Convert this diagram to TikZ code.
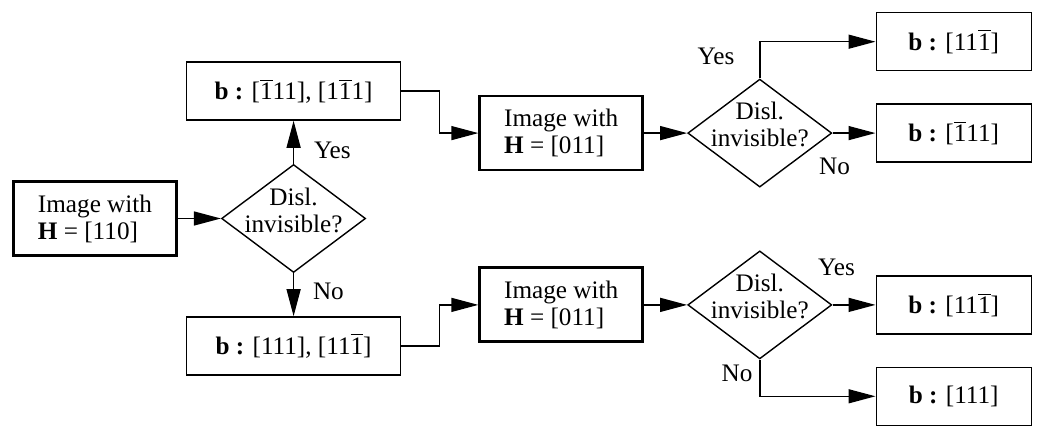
\documentclass[tikz,border=0pt]{standalone}
\usepackage{fontspec}
\setmainfont{Liberation Serif}
\usetikzlibrary{positioning,shapes.geometric,arrows.meta}
\newcommand{\barone}{$\overline{\mbox{1}}$}

\begin{document}
\begin{tikzpicture}[
    node distance=21.5pt,
    font=\fontsize{12.6}{13.5}\selectfont,
 imgnode/.style = {
        draw, rectangle, align=left, line width=1.4pt,
        minimum width=81.5pt, minimum height=37pt, inner sep=2pt},
 bnode/.style = {
        draw, rectangle, line width=0.7pt,
        minimum height=29pt, inner sep=2pt},
 decision/.style = {
        draw, diamond, align=center, line width=0.7pt, aspect=1.33,
        minimum width=72pt, minimum height=54pt, inner sep=0pt,
        text height=13.9pt, text depth=0pt},
 answer/.style = {inner sep=1pt},
     arrow/.style = {line width=0.7pt,-{Triangle[length=13.5pt,width=7pt]}}
                    ]
\useasboundingbox (-47.5pt,-109.75pt) rectangle (473pt,109.25pt);
% the first image and its test
\node (n1)  [imgnode]   {Image with\\ \textbf{H} = [110]};
\node (d1)  [decision, right=of n1]   {Disl.\\invisible?};
\node (n1u) [bnode, minimum width=107pt, above=of d1]
                {\textbf{b :} [\barone 11], [1\barone 1]};
\node (n1d) [bnode, minimum width=107pt, below=of d1]
                {\textbf{b :} [111], [11\barone]};
% the upper branch
\node (n2)  [imgnode, right=38.5pt of n1u, yshift=-21pt]
                {Image with\\ \textbf{H} = [011]};
\node (d2)  [decision, right=of n2]   {Disl.\\invisible?};
\node (n2b) [bnode, minimum width=77.5pt, right=of d2]
                {\textbf{b :} [\barone 11]};
\node (n2a) [bnode, minimum width=77.5pt, above=16pt of n2b]
                {\textbf{b :} [11\barone]};
% the lower branch
\node (n3)  [imgnode, right=38.5pt of n1d, yshift=20.5pt]
                {Image with\\ \textbf{H} = [011]};
\node (d3)  [decision, right=of n3]   {Disl.\\invisible?};
\node (n3a) [bnode, minimum width=77.5pt, right=of d3]
                {\textbf{b :} [11\barone]};
\node (n3b) [bnode, minimum width=77.5pt, below=16pt of n3a]
                {\textbf{b :} [111]};
% the arrows
\draw[arrow] (n1) -- (d1);
\draw[arrow] (d1) -- (n1u);
\draw[arrow] (d1) -- (n1d);
\draw[arrow] (n1u.east) -- ++(19pt,0) |- (n2.west);
\draw[arrow] (n1d.east) -- ++(19pt,0) |- (n3.west);
\draw[arrow] (n2) -- (d2);
\draw[arrow] (d2.north) |- (n2a.west);
\draw[arrow] (d2) -- (n2b);
\draw[arrow] (n3) -- (d3);
\draw[arrow] (d3) -- (n3a);
\draw[arrow] (d3.south) |- (n3b.west);
% yes / no
\node (l1y) [answer, above right=1.5pt and 9pt of d1.north]  {Yes};
\node (l1n) [answer, below right=3.5pt and 8.5pt of d1.south] {No};
\node (l2y) [answer, above left=5.5pt and 11.5pt of d2.north] {Yes};
\node (l2n) [answer, below=11.5pt of d2.east, xshift=1pt]      {No};
\node (l3y) [answer, above=13.5pt of d3.east, xshift=2pt]      {Yes};
\node (l3n) [answer, below left=1.5pt and 2.5pt of d3.south]  {No};
\end{tikzpicture}
\end{document}
